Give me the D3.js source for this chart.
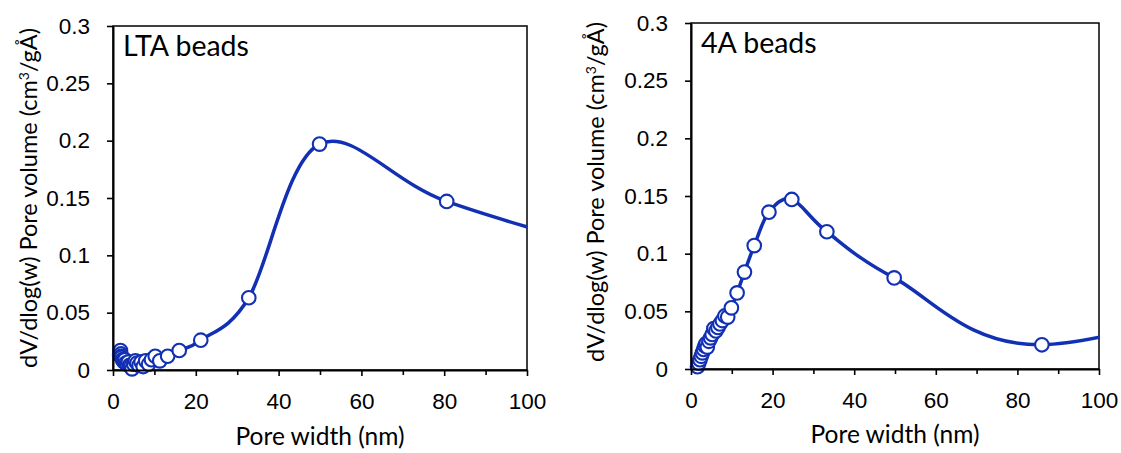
<!DOCTYPE html>
<html>
<head>
<meta charset="utf-8">
<script src="https://cdn.jsdelivr.net/npm/d3@7"></script>
<style>
    body { margin: 0; background: #fff; }
    svg { font-family: "Lato", "Carlito", sans-serif; }
</style>
</head>
<body>
<div id="chart"></div>
<script>

// axis ticks shared by both panels
const xTicks = [0, 20, 40, 60, 80, 100];
const xMinorTicks = [10, 30, 50, 70, 90];
const yTicks = [0, 0.05, 0.1, 0.15, 0.2, 0.25, 0.3];
const yTickLabels = ["0", "0.05", "0.1", "0.15", "0.2", "0.25", "0.3"];

// LTA beads (pore width nm, dV/dlog(w))
const ltaWidth = [1.6, 1.7, 1.8, 1.9, 2.0, 2.1, 2.3, 2.5, 2.7, 2.9, 3.1, 3.4, 3.7, 4.0, 4.3, 4.6, 5.0, 5.4, 5.8, 6.3, 6.8, 7.3, 7.9, 8.6, 9.3, 10.2, 11.3, 13.2, 16.0, 21.2, 32.8, 49.9, 80.6, 130];
const ltaVolume = [0.013, 0.016, 0.017, 0.014, 0.012, 0.011, 0.009, 0.008, 0.007, 0.009, 0.006, 0.005, 0.007, 0.004, 0.003, 0.001, 0.005, 0.008, 0.006, 0.004, 0.007, 0.003, 0.008, 0.005, 0.009, 0.012, 0.008, 0.012, 0.017, 0.026, 0.063, 0.197, 0.147, 0.094];

// 4A beads
const a4Width = [1.6, 1.9, 2.2, 2.5, 2.8, 3.1, 3.4, 3.7, 4.0, 4.4, 4.8, 5.2, 5.6, 6.1, 6.6, 7.1, 7.7, 8.3, 9.0, 9.9, 11.3, 13.1, 15.5, 19.1, 24.7, 33.3, 49.8, 86.0, 160];
const a4Volume = [0.002, 0.005, 0.008, 0.011, 0.014, 0.017, 0.020, 0.022, 0.019, 0.024, 0.027, 0.030, 0.035, 0.033, 0.036, 0.039, 0.042, 0.046, 0.045, 0.053, 0.066, 0.084, 0.107, 0.136, 0.147, 0.119, 0.079, 0.021, 0.085];

const blue = "#1230b4";

class PoreChart {

    constructor(svg, xs, ys, config) {
        this.svg = svg;
        this.data = xs.map((x, i) => ({x: x, y: ys[i]}));
        this.config = config;
        this.initVis();
    }

    initVis() {
        let vis = this;
        let c = vis.config;

        vis.g = vis.svg.append("g")
            .attr("transform", `translate(${c.left}, ${c.top})`);

        vis.x = d3.scaleLinear().domain([0, 100]).range([0, c.width]);
        vis.y = d3.scaleLinear().domain([0, 0.3]).range([c.height, 0]);

        // frame
        vis.g.append("rect")
            .attr("width", c.width).attr("height", c.height)
            .attr("fill", "none").attr("stroke", "#000").attr("stroke-width", 1.5);

        vis.g.append("clipPath").attr("id", c.id + "-clip")
            .append("rect").attr("width", c.width).attr("height", c.height + 20).attr("y", -10);

        // smoothed line
        let line = d3.line()
            .x(d => vis.x(d.x))
            .y(d => vis.y(d.y))
            .curve(d3.curveCatmullRom.alpha(0));

        vis.g.append("path")
            .datum(vis.data)
            .attr("clip-path", `url(#${c.id}-clip)`)
            .attr("d", line)
            .attr("fill", "none")
            .attr("stroke", blue)
            .attr("stroke-width", 3.5);

        vis.g.selectAll(".pt")
            .data(vis.data.filter(d => d.x <= 100))
            .enter().append("circle")
            .attr("class", "pt")
            .attr("cx", d => vis.x(d.x))
            .attr("cy", d => vis.y(d.y))
            .attr("r", 6.8)
            .attr("fill", "#fff")
            .attr("stroke", blue)
            .attr("stroke-width", 2.1);

        // axes
        vis.g.append("g")
            .attr("transform", `translate(0, ${c.height})`)
            .call(d3.axisBottom(vis.x).tickValues(xTicks).tickSize(6).tickPadding(17).tickSizeOuter(0));
        vis.g.append("g")
            .attr("transform", `translate(0, ${c.height})`)
            .call(d3.axisBottom(vis.x).tickValues(xMinorTicks).tickSize(5).tickFormat("").tickSizeOuter(0))
            .call(g => g.select(".domain").remove());

        vis.g.append("g")
            .call(d3.axisLeft(vis.y).tickValues(yTicks).tickSize(6).tickPadding(17).tickSizeOuter(0)
                .tickFormat((d, i) => yTickLabels[i]));

        vis.g.selectAll(".tick line").attr("stroke", "#000").attr("stroke-width", 1.6);
        vis.g.selectAll(".domain").attr("stroke", "#000").attr("stroke-width", 2);
        vis.g.selectAll(".tick text").attr("fill", "#000").style("font-size", "22.5px");

        // titles
        vis.g.append("text")
            .attr("x", 10).attr("y", 30)
            .style("font-size", "28.5px")
            .text(c.title);

        vis.g.append("text")
            .attr("x", c.width / 2).attr("y", c.height + c.xTitleDy)
            .attr("text-anchor", "middle")
            .style("font-size", "24.5px")
            .text("Pore width (nm)");

        let yt = vis.g.append("text")
            .attr("transform", `translate(${c.yTitleX}, ${c.height / 2 + c.yTitleDy}) rotate(-90)`)
            .attr("text-anchor", "middle")
            .style("font-size", "23.5px");
        yt.append("tspan").text("dV/dlog(w) Pore volume (cm");
        yt.append("tspan").attr("dy", -8).style("font-size", "14px").text("3");
        yt.append("tspan").attr("dy", 8).text("/gÅ)");
    }
}

let svg = d3.select("#chart").append("svg")
    .attr("width", 1121)
    .attr("height", 453);

new PoreChart(svg, ltaWidth, ltaVolume,
    {id: "lta", left: 113, top: 26, width: 414, height: 344, title: "LTA beads",
     yTitleX: -76, yTitleDy: 0, xTitleDy: 75});
new PoreChart(svg, a4Width, a4Volume,
    {id: "a4", left: 691, top: 23, width: 408, height: 346, title: "4A beads",
     yTitleX: -87, yTitleDy: -4, xTitleDy: 74});

</script>
</body>
</html>
